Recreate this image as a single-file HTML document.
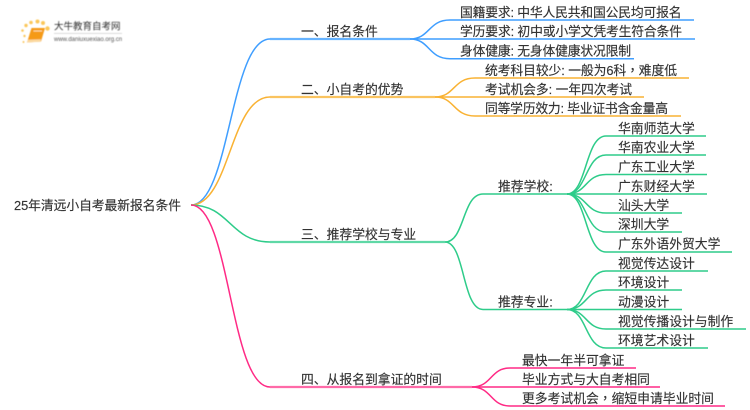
<!DOCTYPE html>
<html>
<head>
<meta charset="utf-8">
<style>
html,body{margin:0;padding:0;background:#fff;}
svg{display:block;}
text{font-family:"Liberation Sans","Noto Sans CJK SC",sans-serif;font-size:12.8px;fill:#333;}
.t text{stroke:#333;stroke-width:0.15px;}
.t{filter:url(#b);}
.c{font-family:"Noto Sans CJK TC",sans-serif;}
</style>
</head>
<body>
<svg width="750" height="410" viewBox="0 0 750 410" xmlns="http://www.w3.org/2000/svg">
<defs>
<filter id="b" x="-5%" y="-5%" width="110%" height="110%"><feGaussianBlur stdDeviation="0.3"/></filter>
<filter id="b2" x="-10%" y="-10%" width="120%" height="120%"><feGaussianBlur stdDeviation="0.45"/></filter>
</defs>

<!-- logo -->
<g filter="url(#b2)">
<g fill="#fbc75a">
<circle cx="47.5" cy="28.5" r="2.2"/><circle cx="43" cy="23" r="2"/><circle cx="37.5" cy="21.5" r="2"/><circle cx="31" cy="22.5" r="1.8"/><circle cx="26" cy="25.5" r="1.7"/><circle cx="22.5" cy="30.5" r="1.3"/><circle cx="24.5" cy="36" r="1.2"/><circle cx="23.5" cy="42" r="1"/>
</g>
<path d="M31.500 28 L45 28 L41 41.500 L27 42.500 Z" fill="#f59a17"/>
<path d="M27.500 39.800 L41 39.200 L40.500 41.800 L27.500 42.500 Z" fill="#fbd9a0"/>
<path d="M33.500 31 L42 31" stroke="#fde2ad" stroke-width="1"/>
<text x="54" y="29.500" style="font-size:9.500px;fill:#333;">大牛教育自考网</text>
<rect x="54" y="33" width="68" height="0.7" fill="#ccc"/>
<text x="54" y="41" style="font-size:6px;fill:#555;">www.daniuxuexiao.org.cn</text>
</g>

<!-- blue -->
<g fill="none" stroke="#3f9eff" stroke-width="1.500">
<path d="M191 205 C230 205,230 39,270 39"/>
<path d="M270 39 H410" stroke="#66b3ff" stroke-width="2.200"/>
<path d="M410 39 C430 39,428 20,450 20 H694"/>
<path d="M410 39 H695"/>
<path d="M410 39 C430 39,428 58.700,450 58.700 H634"/>
</g>
<!-- orange -->
<g fill="none" stroke="#f9b233" stroke-width="1.500">
<path d="M191 205 C230 205,230 97,270 97"/>
<path d="M270 97 H435" stroke="#fac35f" stroke-width="2.200"/>
<path d="M435 97 C455 97,453 78,475 78 H689"/>
<path d="M435 97 H644"/>
<path d="M435 97 C455 97,453 116,475 116 H681"/>
</g>
<!-- green -->
<g fill="none" stroke="#2ecc8a" stroke-width="1.500">
<path d="M191 205 C230 205,230 242,270 242"/>
<path d="M270 242 H445" stroke="#5fd8a6" stroke-width="2.200"/>
<path d="M445 242 C465 242,462 194,483 194 H567"/>
<path d="M445 242 C465 242,462 309.500,483 309.500 H567"/>
<path d="M567 194 C587 194,585 136,606 136 H706"/>
<path d="M567 194 C587 194,585 155,606 155 H706"/>
<path d="M567 194 C587 194,585 174.500,606 174.500 H707"/>
<path d="M567 194 H707"/>
<path d="M567 194 C587 194,585 213,606 213 H682"/>
<path d="M567 194 C587 194,585 232,606 232 H682"/>
<path d="M567 194 C587 194,585 252,606 252 H732"/>
<path d="M567 309.500 C587 309.500,585 271,606 271 H708"/>
<path d="M567 309.500 C587 309.500,585 290,606 290 H682"/>
<path d="M567 309.500 H682"/>
<path d="M567 309.500 C587 309.500,585 329,606 329 H746"/>
<path d="M567 309.500 C587 309.500,585 348,606 348 H708"/>
</g>
<!-- pink -->
<g fill="none" stroke="#ff2a85" stroke-width="1.500">
<path d="M191 205 C230 205,230 387,270 387"/>
<path d="M270 387 H472" stroke="#ff6aa8" stroke-width="2.200"/>
<path d="M472 387 C492 387,490 368,510 368 H636"/>
<path d="M472 387 H660"/>
<path d="M472 387 C492 387,490 406,510 406 H725"/>
</g>

<!-- labels -->
<g class="t" transform="translate(0,0.7)">
<text x="14" y="209.500" textLength="167" lengthAdjust="spacing">25年清远小自考最新报名条件</text>
<text x="301" y="35.500">一、报名条件</text>
<text x="301" y="93.500">二、小自考的优势</text>
<text x="301" y="238.500">三、推荐学校与专业</text>
<text x="301" y="383.500">四、从报名到拿证的时间</text>

<text x="460" y="16.500" textLength="221.500" lengthAdjust="spacing">国籍要求: 中华人民共和国公民均可报名</text>
<text x="460" y="35.500" textLength="222" lengthAdjust="spacing">学历要求: 初中或小学文凭考生符合条件</text>
<text x="460" y="55" textLength="171" lengthAdjust="spacing">身体健康: 无身体健康状况限制</text>

<text x="485" y="74.500" textLength="192" lengthAdjust="spacing">统考科目较少: 一般为6科<tspan class="c">，</tspan>难度低</text>
<text x="485" y="93.500" textLength="147" lengthAdjust="spacing">考试机会多: 一年四次考试</text>
<text x="485" y="112.500" textLength="183" lengthAdjust="spacing">同等学历效力: 毕业证书含金量高</text>

<text x="498" y="190.500">推荐学校:</text>
<text x="498" y="306">推荐专业:</text>

<text x="618" y="132.500">华南师范大学</text>
<text x="618" y="151.500">华南农业大学</text>
<text x="618" y="171">广东工业大学</text>
<text x="618" y="190.500">广东财经大学</text>
<text x="618" y="209.500">汕头大学</text>
<text x="618" y="228.500">深圳大学</text>
<text x="618" y="248">广东外语外贸大学</text>

<text x="618" y="267.500">视觉传达设计</text>
<text x="618" y="286.500">环境设计</text>
<text x="618" y="306">动漫设计</text>
<text x="618" y="325.500">视觉传播设计与制作</text>
<text x="618" y="344.500">环境艺术设计</text>

<text x="522" y="364.500">最快一年半可拿证</text>
<text x="522" y="383.500">毕业方式与大自考相同</text>
<text x="522" y="402.500">更多考试机会<tspan class="c">，</tspan>缩短申请毕业时间</text>
</g>
</svg>
</body>
</html>
